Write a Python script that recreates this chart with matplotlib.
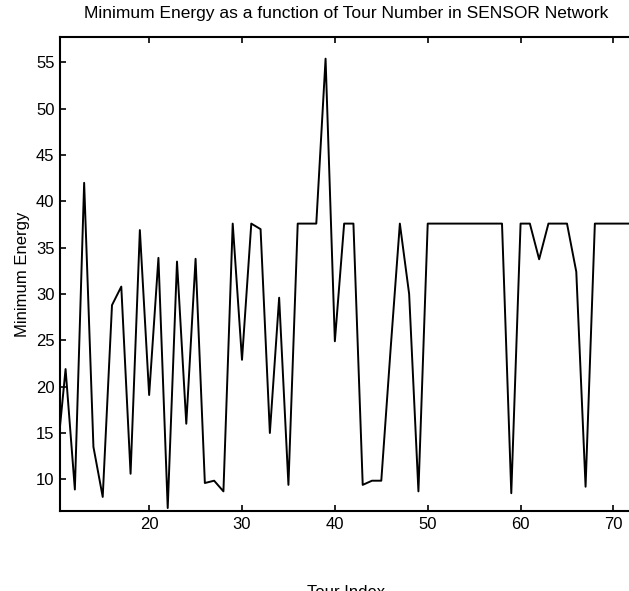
import numpy as np
import matplotlib
matplotlib.use('Agg')
import matplotlib.pyplot as plt

plt.rcParams['font.family'] = ['Liberation Sans', 'DejaVu Sans']

# tour index and minimum energy
tour = list(range(10, 73))
energy = [11.6, 21.9, 8.9, 42.0, 13.5, 8.1, 28.8, 30.8, 10.6, 36.9,
          19.1, 33.9, 6.9, 33.5, 16.0, 33.8, 9.6, 9.85, 8.7, 37.6,
          22.9, 37.6, 37.0, 15.0, 29.6, 9.4, 37.6, 37.6, 37.6, 55.4,
          24.9, 37.6, 37.6, 9.4, 9.85, 9.85, 24.0, 37.6, 30.0, 8.7,
          37.6, 37.6, 37.6, 37.6, 37.6, 37.6, 37.6, 37.6, 37.6, 8.5,
          37.6, 37.6, 33.75, 37.6, 37.6, 37.6, 32.4, 9.2, 37.6, 37.6,
          37.6, 37.6, 37.6]

yticks = [10, 15, 20, 25, 30, 35, 40, 45, 50, 55]
xticks = [20, 30, 40, 50, 60, 70]

fig = plt.figure(figsize=(6.29, 5.91), dpi=100)
ax = fig.add_axes([60/629, 80/591, 572/629, 474/591])

ax.plot(tour, energy, color='black', linewidth=1.4)

ax.set_xlim(10.4, 72.0)
ax.set_ylim(6.58, 57.74)
ax.set_xticks(xticks)
ax.set_yticks(yticks)
ax.tick_params(direction='in', length=4, width=1.2, labelsize=12,
               top=True, right=False, pad=4)
for s in ax.spines.values():
    s.set_linewidth(1.5)

ax.set_title('Minimum Energy as a function of Tour Number in SENSOR Network',
             fontsize=12.5, pad=14)
ax.set_ylabel('Minimum Energy', fontsize=12, labelpad=4)
ax.set_xlabel('Tour Index', fontsize=12, va='top')
ax.xaxis.set_label_coords(0.5, -0.157)

fig.savefig('out.png', dpi=100)
